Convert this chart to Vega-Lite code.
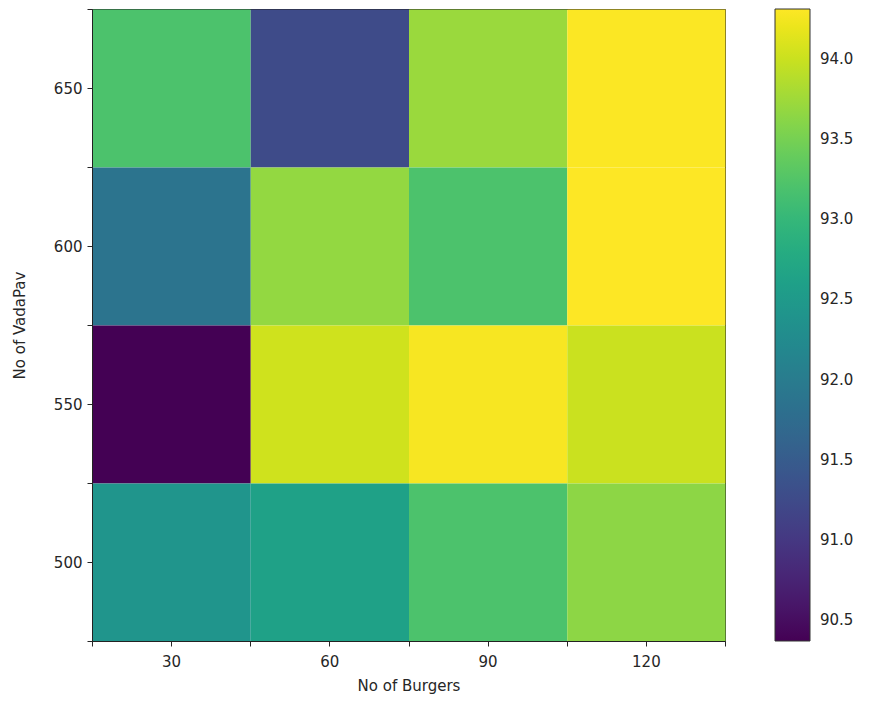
{
  "$schema": "https://vega.github.io/schema/vega-lite/v6.json",
  "width": 633,
  "height": 632,
  "padding": {"left": 12, "top": 8, "right": 5, "bottom": 5},
  "background": "white",
  "config": {
    "font": "DejaVu Sans",
    "view": {"stroke": "#222", "strokeWidth": 1},
    "axis": {
      "grid": false,
      "labelFont": "DejaVu Sans",
      "titleFont": "DejaVu Sans",
      "labelFontSize": 15,
      "titleFontSize": 15,
      "titleFontWeight": "normal",
      "labelColor": "#262626",
      "titleColor": "#262626",
      "tickColor": "#262626",
      "domainColor": "#222",
      "tickSize": 5,
      "labelPadding": 5
    },
    "legend": {
      "labelFont": "DejaVu Sans",
      "labelFontSize": 15,
      "labelColor": "#262626"
    }
  },
  "data": {
    "values": [
      {"burgers": 30, "vadapav": 650, "accuracy": 93.2},
      {"burgers": 60, "vadapav": 650, "accuracy": 91.25},
      {"burgers": 90, "vadapav": 650, "accuracy": 93.72},
      {"burgers": 120, "vadapav": 650, "accuracy": 94.3},
      {"burgers": 30, "vadapav": 600, "accuracy": 91.88},
      {"burgers": 60, "vadapav": 600, "accuracy": 93.68},
      {"burgers": 90, "vadapav": 600, "accuracy": 93.2},
      {"burgers": 120, "vadapav": 600, "accuracy": 94.31},
      {"burgers": 30, "vadapav": 550, "accuracy": 90.37},
      {"burgers": 60, "vadapav": 550, "accuracy": 94.03},
      {"burgers": 90, "vadapav": 550, "accuracy": 94.27},
      {"burgers": 120, "vadapav": 550, "accuracy": 94.0},
      {"burgers": 30, "vadapav": 500, "accuracy": 92.42},
      {"burgers": 60, "vadapav": 500, "accuracy": 92.62},
      {"burgers": 90, "vadapav": 500, "accuracy": 93.2},
      {"burgers": 120, "vadapav": 500, "accuracy": 93.64}
    ]
  },
  "mark": {"type": "rect"},
  "encoding": {
    "x": {
      "field": "burgers",
      "type": "quantitative",
      "bin": {"extent": [15, 135], "step": 30, "nice": false},
      "scale": {"domain": [15, 135], "nice": false, "zero": false},
      "title": "No of Burgers",
      "axis": {
        "values": [15, 30, 45, 60, 75, 90, 105, 120, 135],
        "labelExpr": "datum.value % 30 === 0 ? datum.label : ''",
        "format": "d",
        "labelPadding": 8,
        "titlePadding": 9
      }
    },
    "y": {
      "field": "vadapav",
      "type": "quantitative",
      "bin": {"extent": [475, 675], "step": 50, "nice": false},
      "scale": {"domain": [475, 675], "nice": false, "zero": false},
      "title": "No of VadaPav",
      "axis": {
        "values": [475, 500, 525, 550, 575, 600, 625, 650, 675],
        "labelExpr": "datum.value % 50 === 0 ? datum.label : ''",
        "format": "d",
        "titlePadding": 26
      }
    },
    "color": {
      "field": "accuracy",
      "type": "quantitative",
      "scale": {"scheme": "viridis", "domain": [90.37, 94.31], "nice": false, "zero": false},
      "legend": {
        "title": null,
        "orient": "right",
        "offset": 50,
        "direction": "vertical",
        "gradientLength": 632,
        "gradientThickness": 35,
        "gradientStrokeColor": "#333",
        "gradientStrokeWidth": 1,
        "values": [90.5, 91.0, 91.5, 92.0, 92.5, 93.0, 93.5, 94.0],
        "format": ".1f",
        "labelOffset": 10,
        "labelOverlap": false
      }
    }
  }
}
